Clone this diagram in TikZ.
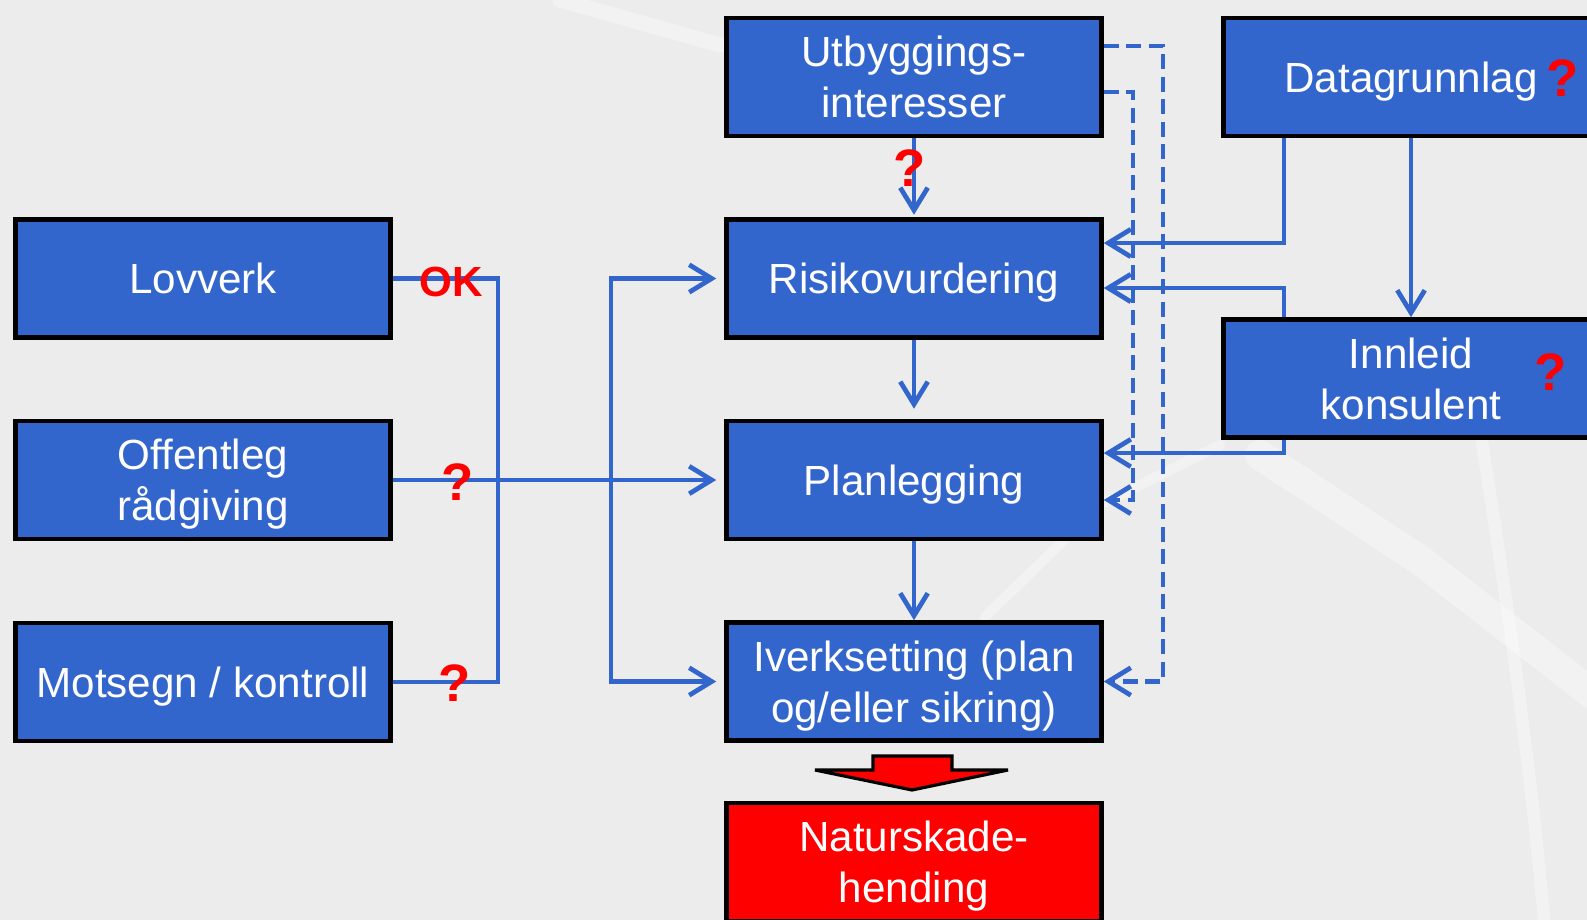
\documentclass[tikz,border=0pt]{standalone}
\usepackage{fontspec}
\setmainfont{Liberation Sans}
\usetikzlibrary{arrows.meta}
\definecolor{boxblue}{RGB}{51,102,204}
\definecolor{bgrey}{RGB}{236,236,236}
\tikzset{
  >={Straight Barb[length=0.45cm,width=0.55cm]},
  box/.style={draw=black, line width=2.6pt, fill=boxblue, text=white,
    minimum width=7.5cm, minimum height=2.36cm, inner sep=0pt, align=center,
    text depth=0pt, font=\fontsize{24}{29}\selectfont},
  link/.style={draw=boxblue, line width=2.7pt},
  arr/.style={link, ->},
  darr/.style={arr, dash pattern=on 0.3cm off 0.15cm},
  qmark/.style={text=red, inner sep=0pt, font=\fontsize{30}{30}\selectfont\bfseries},
  streak/.style={white, opacity=0.35, line cap=round},
}
\begin{document}
\begin{tikzpicture}[x=0.02cm, y=-0.02cm]
\useasboundingbox (0,0) rectangle (1587,920);
\fill[bgrey] (0,0) rectangle (1587,920);
\begin{scope}                       % background streaks
\clip (0,0) rectangle (1587,920);
\draw[streak, line width=0.3cm] (560,0) -- (720,45);
\draw[streak, line width=0.2cm] (985,617) -- (1100,505) -- (1220,445);
\draw[streak, line width=0.6cm] (1260,455) -- (1420,560) -- (1600,700);
\draw[streak, line width=0.25cm] (1480,430) .. controls (1510,620) and (1530,760) .. (1545,930);
\end{scope}
\begin{scope}                       % boxes and connectors
\clip (0,0) rectangle (1587,920);
\node[box] (lov) at (203,278.5) {Lovverk};
\node[box] (off) at (203,480) {Offentleg\\rådgiving};
\node[box] (mot) at (203,682) {Motsegn / kontroll};
\node[box] (utb) at (914,77) {Utbyggings-\\interesser};
\node[box] (risk) at (914,278.5) {Risikovurdering};
\node[box] (plan) at (914,480) {Planlegging};
\node[box] (iverk) at (914,681.5) {Iverksetting (plan\\og/eller sikring)};
\node[box, fill=red] (natur) at (914,862) {Naturskade-\\hending};
\node[box] (data) at (1411,77) {Datagrunnlag};
\node[box] (innl) at (1411,378.5) {Innleid\\konsulent};
\coordinate (busL) at (498,0);
\coordinate (busR) at (611,0);
\coordinate (tapD) at (1284,0);
\coordinate (dashI) at (1133,0);
\coordinate (dashO) at (1163,0);
\coordinate (planD) at ([yshift=-0.4cm]plan.east);
% left side
\draw[link] (lov.east) -| (busL |- mot.east) -- (mot.east);
\draw[arr, shorten >=0.16cm] (off.east) -- (plan.west);
\draw[link, <->, shorten <=0.16cm, shorten >=0.16cm] (risk.west) -- (risk.west -| busR) -- (iverk.west -| busR) -- (iverk.west);
% middle column
\draw[arr, shorten >=0.05cm] (utb) -- (risk);
\draw[arr, shorten >=0.2cm] (risk) -- (plan);
\draw[arr] (plan) -- (iverk);
% right side
\draw[darr] ([yshift=0.62cm]utb.east) -| (dashO |- iverk.east) -- (iverk.east);
\draw[darr] ([yshift=-0.3cm]utb.east) -| (planD -| dashI) -- (planD);
\draw[arr] (data.south -| tapD) |- ([yshift=0.71cm]risk.east);
\draw[arr] (innl.north -| tapD) |- ([yshift=-0.19cm]risk.east);
\draw[arr] (innl.south -| tapD) |- ([yshift=0.54cm]plan.east);
\draw[arr] (data) -- (innl);
% block arrow to the event
\draw[fill=red, draw=black, line width=1.8pt, miter limit=3] (873,756) -- (952,756) -- (952,770) -- (1008,770)
  -- (912,790) -- (815,770) -- (873,770) -- cycle;
% labels
\node[qmark, font=\fontsize{24}{24}\selectfont\bfseries] (ok) at (451,282) {OK};
\node[qmark] (qOff) at (458,482) {?};
\node[qmark] (qMot) at (455,683) {?};
\node[qmark] (qUtb) at (910,168) {?};
\node[qmark] (qData) at (1563,78) {?};
\node[qmark] (qInnl) at (1551,372) {?};
\end{scope}
\end{tikzpicture}
\end{document}
